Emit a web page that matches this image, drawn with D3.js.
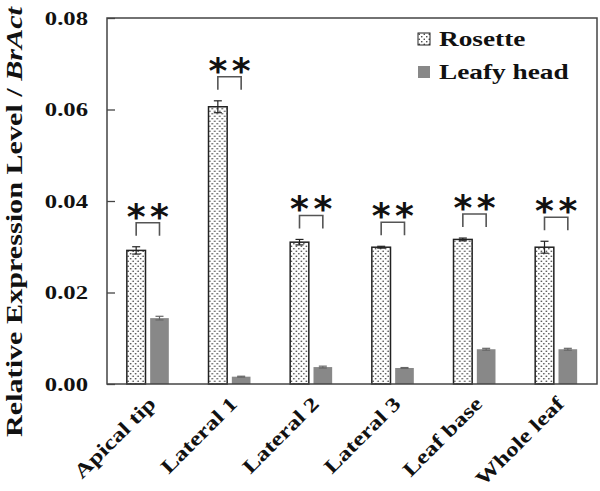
<!DOCTYPE html>
<html>
<head>
<meta charset="utf-8">
<script src="https://cdn.jsdelivr.net/npm/d3@7"></script>
<style>
  body { margin: 0; background: #fff; }
  svg { display: block; }
</style>
</head>
<body>
<div id="bar-chart"></div>
<script>
// chart values
var categories = ['Apical tip', 'Lateral 1', 'Lateral 2', 'Lateral 3', 'Leaf base', 'Whole leaf'];
var seriesNames = ['Rosette', 'Leafy head'];
var rosette    = [0.0292, 0.0606, 0.0310, 0.0299, 0.0316, 0.0299];
var rosetteErr = [0.0008, 0.0013, 0.0006, 0.0002, 0.0003, 0.0013];
var leafy      = [0.0144, 0.0016, 0.0037, 0.0035, 0.0076, 0.0076];
var leafyErr   = [0.0004, 0.0001, 0.0002, 0.0001, 0.0002, 0.0002];
var yTicks = [0, 0.02, 0.04, 0.06, 0.08];
var signif = ['**', '**', '**', '**', '**', '**'];

// (window.top is read only, so the plot edges get their own names)
var width = 600,
    height = 491,
    plotLeft = 107, plotRight = 597, plotTop = 18, plotBottom = 384;

var serif = '"Liberation Serif", "Times New Roman", serif';

var rows = categories.map(function (c, i) {
  return {
    cat: c,
    sig: signif[i],
    bars: [
      {key: 'Rosette', value: rosette[i], err: rosetteErr[i]},
      {key: 'Leafy head', value: leafy[i], err: leafyErr[i]}
    ]
  };
});

var svg = d3.select('#bar-chart').append('svg')
  .attr('width', width)
  .attr('height', height);

// dotted fill used for the rosette bars
var pat = svg.append('defs').append('pattern')
  .attr('id', 'dots')
  .attr('patternUnits', 'userSpaceOnUse')
  .attr('width', 5).attr('height', 5);
pat.append('rect').attr('width', 5).attr('height', 5).attr('fill', '#fff');
pat.append('circle').attr('cx', 1.25).attr('cy', 1.25).attr('r', 0.8).attr('fill', '#333');
pat.append('circle').attr('cx', 3.75).attr('cy', 3.75).attr('r', 0.8).attr('fill', '#333');

var x0 = d3.scaleBand().domain(categories).range([plotLeft, plotRight])
  .paddingInner(0.486).paddingOuter(0.243);
var x1 = d3.scaleBand().domain(seriesNames).range([0, x0.bandwidth()])
  .paddingInner(0.2);
var y = d3.scaleLinear().domain([0, 0.08]).range([plotBottom, plotTop]);

var fills = {'Rosette': 'url(#dots)', 'Leafy head': '#888'};
var strokes = {'Rosette': '#222', 'Leafy head': 'none'};
var errColor = {'Rosette': '#222', 'Leafy head': '#666'};

// widen a text to k times its normal length (the picture uses wide glyphs)
function widen(k) {
  return function () {
    var w = this.getComputedTextLength();
    d3.select(this).attr('textLength', w * k).attr('lengthAdjust', 'spacingAndGlyphs');
  };
}

// y axis, ticks pointing inside
var yAxis = svg.append('g')
  .attr('transform', 'translate(' + plotLeft + ',0)')
  .call(d3.axisLeft(y).tickValues(yTicks).tickFormat(d3.format('.2f'))
        .tickSize(-8).tickPadding(19));
yAxis.select('.domain').remove();
yAxis.selectAll('line').attr('stroke', '#444').attr('stroke-width', 1.3);
yAxis.selectAll('text')
  .attr('font-family', serif).attr('font-weight', 'bold')
  .attr('font-size', 19).attr('fill', '#111')
  .attr('dy', '0.34em')
  .each(widen(1.3));

// x axis labels rotated, their ends sit just right of the group centre
var xAxis = svg.append('g')
  .attr('transform', 'translate(0,' + plotBottom + ')')
  .call(d3.axisBottom(x0).tickSize(0));
xAxis.select('.domain').remove();
xAxis.selectAll('text')
  .attr('font-family', serif).attr('font-weight', 'bold')
  .attr('font-size', 20).attr('fill', '#111')
  .attr('text-anchor', 'end')
  .attr('y', 0).attr('dy', 0)
  .attr('transform', 'translate(9,21) rotate(-45)')
  .each(widen(1.26));

var groups = svg.append('g').selectAll('g').data(rows)
  .enter().append('g')
    .attr('transform', function (d) { return 'translate(' + x0(d.cat) + ',0)'; });

groups.selectAll('rect').data(function (d) { return d.bars; })
  .enter().append('rect')
    .attr('x', function (d) { return x1(d.key); })
    .attr('width', x1.bandwidth())
    .attr('y', function (d) { return y(d.value); })
    .attr('height', function (d) { return y(0) - y(d.value); })
    .attr('fill', function (d) { return fills[d.key]; })
    .attr('stroke', function (d) { return strokes[d.key]; })
    .attr('stroke-width', 1.5);

// error bars
var eb = groups.selectAll('g.err').data(function (d) { return d.bars; })
  .enter().append('g')
    .attr('class', 'err')
    .attr('stroke', function (d) { return errColor[d.key]; })
    .attr('stroke-width', 1.2);
eb.append('line')
  .attr('x1', function (d) { return x1(d.key) + x1.bandwidth() / 2; })
  .attr('x2', function (d) { return x1(d.key) + x1.bandwidth() / 2; })
  .attr('y1', function (d) { return y(d.value - d.err); })
  .attr('y2', function (d) { return y(d.value + d.err); });
[-1, 1].forEach(function (s) {
  eb.append('line')
    .attr('x1', function (d) { return x1(d.key) + x1.bandwidth() / 2 - 4; })
    .attr('x2', function (d) { return x1(d.key) + x1.bandwidth() / 2 + 4; })
    .attr('y1', function (d) { return y(d.value + s * d.err); })
    .attr('y2', function (d) { return y(d.value + s * d.err); });
});

// significance bracket and asterisks above each pair
function topOf(d) { return y(d.bars[0].value + d.bars[0].err); }
function mid(k) { return x1(k) + x1.bandwidth() / 2; }

groups.append('path')
  .attr('fill', 'none').attr('stroke', '#555').attr('stroke-width', 1.6)
  .attr('d', function (d) {
    var t = topOf(d);
    return 'M' + mid('Rosette') + ',' + (t - 11) + 'V' + (t - 24) +
           'H' + mid('Leafy head') + 'V' + (t - 11);
  });

groups.each(function (d) {
  var g = d3.select(this);
  seriesNames.forEach(function (k, j) {
    g.append('text')
      .attr('x', mid(k))
      .attr('y', topOf(d) - 18)
      .attr('text-anchor', 'middle')
      .attr('font-family', '"DejaVu Sans", sans-serif')
      .attr('font-weight', 'bold')
      .attr('font-size', 36)
      .attr('fill', '#111')
      .text(d.sig.charAt(j));
  });
});

// frame round the plot
svg.append('rect')
  .attr('x', plotLeft).attr('y', plotTop)
  .attr('width', plotRight - plotLeft).attr('height', plotBottom - plotTop)
  .attr('fill', 'none').attr('stroke', '#444').attr('stroke-width', 1.5);

// legend
var legend = svg.append('g').selectAll('g').data(seriesNames)
  .enter().append('g')
    .attr('transform', function (d, i) { return 'translate(418,' + (33 + i * 33) + ')'; });
legend.append('rect')
  .attr('width', 12).attr('height', 12)
  .attr('fill', function (d) { return fills[d]; })
  .attr('stroke', function (d) { return d === 'Rosette' ? '#222' : 'none'; })
  .attr('stroke-width', 1);
legend.append('text')
  .attr('x', 21).attr('y', 13)
  .attr('font-family', serif).attr('font-weight', 'bold')
  .attr('font-size', 21).attr('fill', '#111')
  .text(function (d) { return d; })
  .each(widen(1.3));

// y title
var title = svg.append('text')
  .attr('transform', 'translate(22,222) rotate(-90)')
  .attr('text-anchor', 'middle')
  .attr('font-family', serif).attr('font-weight', 'bold')
  .attr('font-size', 24).attr('fill', '#111')
  .attr('textLength', 430).attr('lengthAdjust', 'spacingAndGlyphs');
title.append('tspan').text('Relative Expression Level / ');
title.append('tspan').attr('font-style', 'italic').text('BrAct');
</script>
</body>
</html>
